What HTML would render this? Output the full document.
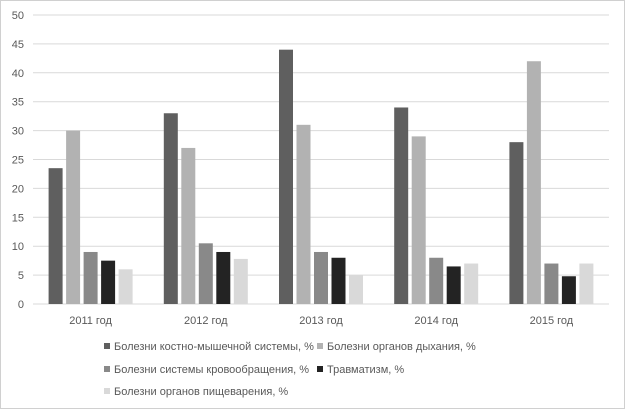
<!DOCTYPE html>
<html><head><meta charset="utf-8"><style>
body{margin:0;background:#fff}
svg{display:block;font-family:"Liberation Sans",sans-serif}
</style></head><body>
<svg id="chart" width="625" height="409" viewBox="0 0 625 409">
<rect x="0.5" y="0.5" width="624" height="408" fill="#fff" stroke="#d0d0d0"/>
<g id="grid"></g>
<g id="yticks" font-size="11" fill="#595959" text-anchor="end"></g>
<g id="bars"></g>
<g id="xticks" font-size="11" fill="#595959" text-anchor="middle"></g>
<g id="legend" font-size="11" fill="#595959"></g>
</svg>
<script>
const categories=["2011 год","2012 год","2013 год","2014 год","2015 год"];
const seriesNames=["Болезни костно-мышечной системы, %","Болезни органов дыхания, %","Болезни системы кровообращения, %","Травматизм, %","Болезни органов пищеварения, %"];
const s1=[23.5,33,44,34,28];
const s2=[30,27,31,29,42];
const s3=[9,10.5,9,8,7];
const s4=[7.5,9,8,6.5,4.8];
const s5=[6,7.8,5,7,7];
const yTicks=[0,5,10,15,20,25,30,35,40,45,50];
const series=[s1,s2,s3,s4,s5];
const colors=["#5f5f5f","#b2b2b2","#898989","#232323","#d9d9d9"];
const NS="http://www.w3.org/2000/svg";
const x0=33,x1=609,y0=304,yTop=15,yMax=50;
const y=v=>y0-(v/yMax)*(y0-yTop);
const band=(x1-x0)/categories.length;
const bw=14,step=17.5;
function mk(tag,attrs,parent){const e=document.createElementNS(NS,tag);for(const k in attrs)e.setAttribute(k,attrs[k]);parent.appendChild(e);return e;}
const grid=document.getElementById('grid'),yt=document.getElementById('yticks');
yTicks.forEach(t=>{
 const l=mk('line',{x1:x0,x2:x1,y1:y(t),y2:y(t),stroke:'#d9d9d9','stroke-width':1},grid);
 
 
 const tx=mk('text',{x:24,y:y(t)+4},yt);tx.textContent=t;
 
 
});
const bars=document.getElementById('bars'),xt=document.getElementById('xticks');
categories.forEach((c,i)=>{
 const cx=x0+band*(i+0.5);
 const start=cx-(step*4+bw)/2;
 series.forEach((s,j)=>{
  const r=mk('rect',{x:start+j*step,y:y(s[i]),width:bw,height:y0-y(s[i]),fill:colors[j]},bars);
  
  
 });
 const tx=mk('text',{x:cx,y:324},xt);tx.textContent=c;
 
 
});
const leg=document.getElementById('legend');
const pos=[[104,346],[317,346],[104,369],[317,369],[104,391]];
seriesNames.forEach((n,j)=>{
 const g=mk('g',{},leg);
 
 
 mk('rect',{x:pos[j][0],y:pos[j][1]-3,width:6,height:6,fill:colors[j]},g);
 const t=mk('text',{x:pos[j][0]+10,y:pos[j][1]+4},g);t.textContent=n;
});
</script>
</body></html>
